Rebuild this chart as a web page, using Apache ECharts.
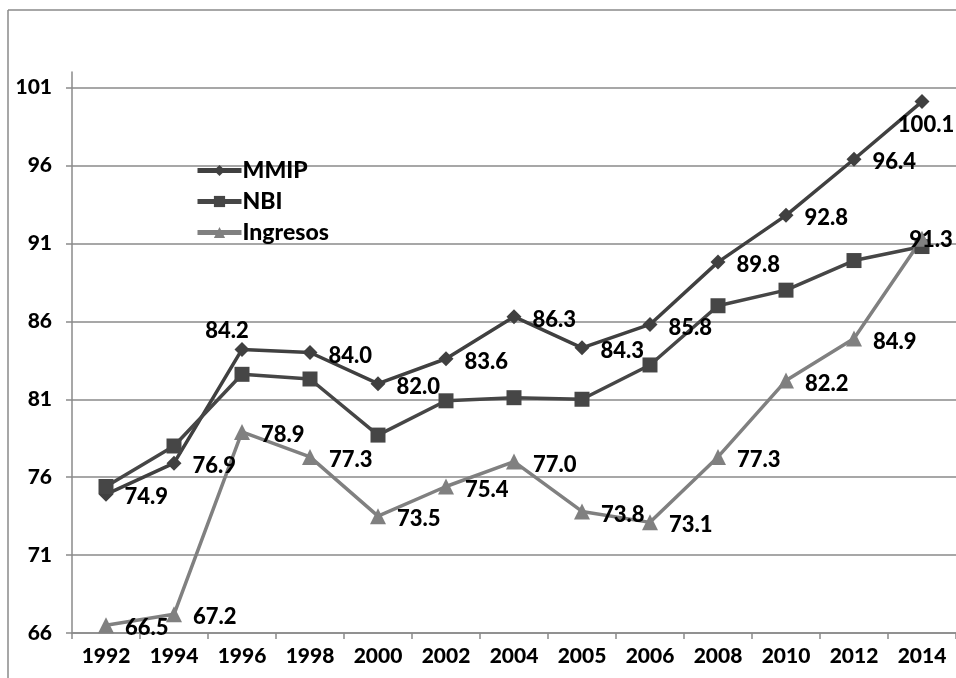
<!DOCTYPE html>
<html>
<head>
<meta charset="utf-8">
<script src="https://cdn.jsdelivr.net/npm/echarts@6/dist/echarts.min.js"></script>
<style>
html,body{margin:0;padding:0;background:#fff;}
#c{width:956px;height:678px;}
</style>
</head>
<body>
<div id="c"></div>
<script>
var categories = ['1992','1994','1996','1998','2000','2002','2004','2005','2006','2008','2010','2012','2014'];
var mmip = [74.9, 76.9, 84.2, 84.0, 82.0, 83.6, 86.3, 84.3, 85.8, 89.8, 92.8, 96.4, 100.1];
var nbi = [75.4, 78.0, 82.6, 82.3, 78.7, 80.9, 81.1, 81.0, 83.2, 87.0, 88.0, 89.9, 90.8];
var ingresos = [66.5, 67.2, 78.9, 77.3, 73.5, 75.4, 77.0, 73.8, 73.1, 77.3, 82.2, 84.9, 91.3];
var yTicks = [66, 71, 76, 81, 86, 91, 96, 101];

var FONT = 'Lato';
var WEIGHT = 900;
var labelBase = {
  show: true, position: 'right', distance: 11, offset: [0, 3],
  color: '#000', fontFamily: FONT, fontWeight: WEIGHT, fontSize: 22,
  formatter: function (p) { return Number(p.value).toFixed(1); }
};

function withLabels(values, overrides) {
  return values.map(function (v, i) {
    var d = {value: v};
    if (overrides[i]) d.label = overrides[i];
    return d;
  });
}

var mmipData = withLabels(mmip, {
  2: {position: 'top', offset: [-15, 2], distance: 2},
  12: {position: 'bottom', offset: [4, 0], distance: 5}
});
var ingData = withLabels(ingresos, {
  12: {position: 'inside', offset: [9, 1]}
});

var gridColors = yTicks.map(function () { return '#8a8a8a'; }).concat(['rgba(0,0,0,0)']);

var chart = echarts.init(document.getElementById('c'));
chart.setOption({
  animation: false,
  backgroundColor: '#fff',
  grid: {left: 72, right: 0, top: 72, bottom: 45, containLabel: false},
  legend: {
    orient: 'vertical', left: 190, top: 154,
    itemWidth: 44, itemHeight: 14, itemGap: 8,
    lineStyle: {width: 5},
    textStyle: {fontFamily: FONT, fontWeight: WEIGHT, fontSize: 23, color: '#000', padding: [0, 0, 0, -4]},
    data: ['MMIP', 'NBI', 'Ingresos']
  },
  xAxis: {
    type: 'category', data: categories, boundaryGap: true,
    axisLine: {lineStyle: {color: '#8a8a8a', width: 1.5}},
    axisTick: {show: true, length: 6, lineStyle: {color: '#8a8a8a', width: 1.5}},
    axisLabel: {color: '#000', fontFamily: FONT, fontWeight: WEIGHT, fontSize: 21, margin: 13}
  },
  yAxis: {
    type: 'value', min: 66, max: 102, interval: 5,
    axisLine: {show: true, lineStyle: {color: '#8a8a8a', width: 1.5}},
    axisTick: {show: true, length: 6, customValues: yTicks, lineStyle: {color: '#8a8a8a', width: 1.5}},
    axisLabel: {customValues: yTicks, color: '#000', fontFamily: FONT, fontWeight: WEIGHT, fontSize: 21, margin: 20},
    splitLine: {show: true, lineStyle: {color: gridColors, width: 1.5}}
  },
  graphic: [
    {type: 'line', shape: {x1: 8, y1: 10, x2: 956, y2: 10}, style: {stroke: '#8a8a8a', lineWidth: 1.5}, silent: true},
    {type: 'line', shape: {x1: 8, y1: 10, x2: 8, y2: 678}, style: {stroke: '#8a8a8a', lineWidth: 1.5}, silent: true}
  ],
  series: [
    {
      name: 'MMIP', type: 'line', data: mmipData,
      symbol: 'diamond', symbolSize: 15, showAllSymbol: true,
      lineStyle: {color: '#404040', width: 3.5},
      itemStyle: {color: '#404040'},
      label: labelBase
    },
    {
      name: 'NBI', type: 'line', data: nbi,
      symbol: 'rect', symbolSize: 15, showAllSymbol: true,
      lineStyle: {color: '#464646', width: 3.5},
      itemStyle: {color: '#464646'},
      label: {show: false}
    },
    {
      name: 'Ingresos', type: 'line', data: ingData,
      symbol: 'triangle', symbolSize: 16, showAllSymbol: true,
      lineStyle: {color: '#808080', width: 3.5},
      itemStyle: {color: '#808080'},
      label: labelBase
    }
  ]
});
</script>
</body>
</html>
